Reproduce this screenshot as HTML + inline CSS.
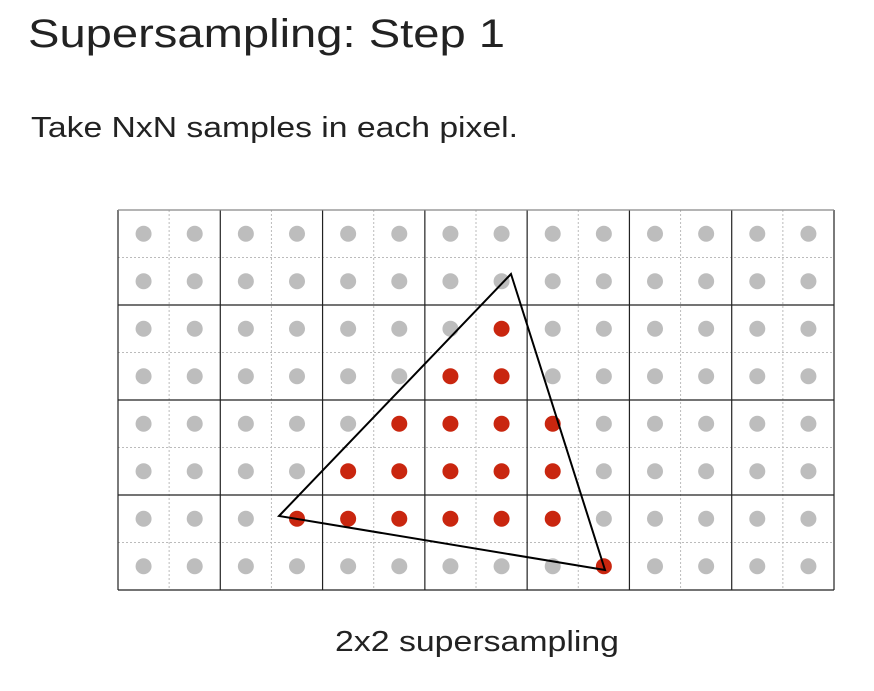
<!DOCTYPE html>
<html><head><meta charset="utf-8"><style>
body{margin:0;width:874px;height:686px;background:#fff;overflow:hidden;font-family:"Liberation Sans",sans-serif;}
</style></head><body>
<svg width="874" height="686">
<text x="28" y="47" font-size="40" fill="#222" textLength="477" lengthAdjust="spacingAndGlyphs" font-family="Liberation Sans, sans-serif">Supersampling: Step 1</text>
<text x="31" y="137" font-size="29" fill="#222" textLength="487" lengthAdjust="spacingAndGlyphs" font-family="Liberation Sans, sans-serif">Take NxN samples in each pixel.</text>
<g id="grid"></g>
<text x="335" y="651" font-size="29" fill="#222" textLength="284" lengthAdjust="spacingAndGlyphs" font-family="Liberation Sans, sans-serif">2x2 supersampling</text>
</svg>
<script>
const pixelCols = 7, pixelRows = 4, sub = 2;
// covered sample column indices per sample row (8 rows x 14 cols)
const coveredRows = [[],[],[7],[6,7],[5,6,7,8],[4,5,6,7,8],[3,4,5,6,7,8],[9]];
const triangle = [[511,274],[279,516],[605,570]];
const X0=118,X1=834,Y0=210,Y1=590;
const ns='http://www.w3.org/2000/svg';
const g=document.getElementById('grid');
const nc=pixelCols*sub, nr=pixelRows*sub;
const sw=(X1-X0)/nc, sh=(Y1-Y0)/nr;
function mk(t,a){const e=document.createElementNS(ns,t);for(const k in a)e.setAttribute(k,a[k]);g.appendChild(e);return e;}
for(let i=1;i<nc;i++){if(i%sub){const l=mk('line',{x1:X0+i*sw,x2:X0+i*sw,y1:Y0,y2:Y1,stroke:'#bbb','stroke-dasharray':'2,2'});

}}
for(let j=1;j<nr;j++){if(j%sub){const l=mk('line',{x1:X0,x2:X1,y1:Y0+j*sh,y2:Y0+j*sh,stroke:'#bbb','stroke-dasharray':'2,2'});

}}
for(let i=0;i<=pixelCols;i++){const x=X0+i*(X1-X0)/pixelCols;const l=mk('line',{x1:x,x2:x,y1:Y0,y2:Y1,stroke:'#222','stroke-width':1.2});

}
for(let j=0;j<=pixelRows;j++){const y=Y0+j*(Y1-Y0)/pixelRows;const l=mk('line',{x1:X0,x2:X1,y1:y,y2:y,stroke:j==0?'#888':'#222','stroke-width':1.2});

}
for(let j=0;j<nr;j++)for(let i=0;i<nc;i++){
const inside=coveredRows[j].includes(i);
const c=mk('circle',{cx:X0+(i+0.5)*sw,cy:Y0+(j+0.5)*sh,r:8,fill:inside?'#c9260f':'#bdbdbd'});

}
const p=mk('polygon',{points:triangle.map(q=>q.join(',')).join(' '),fill:'none',stroke:'#000','stroke-width':2});


</script>
</body></html>
